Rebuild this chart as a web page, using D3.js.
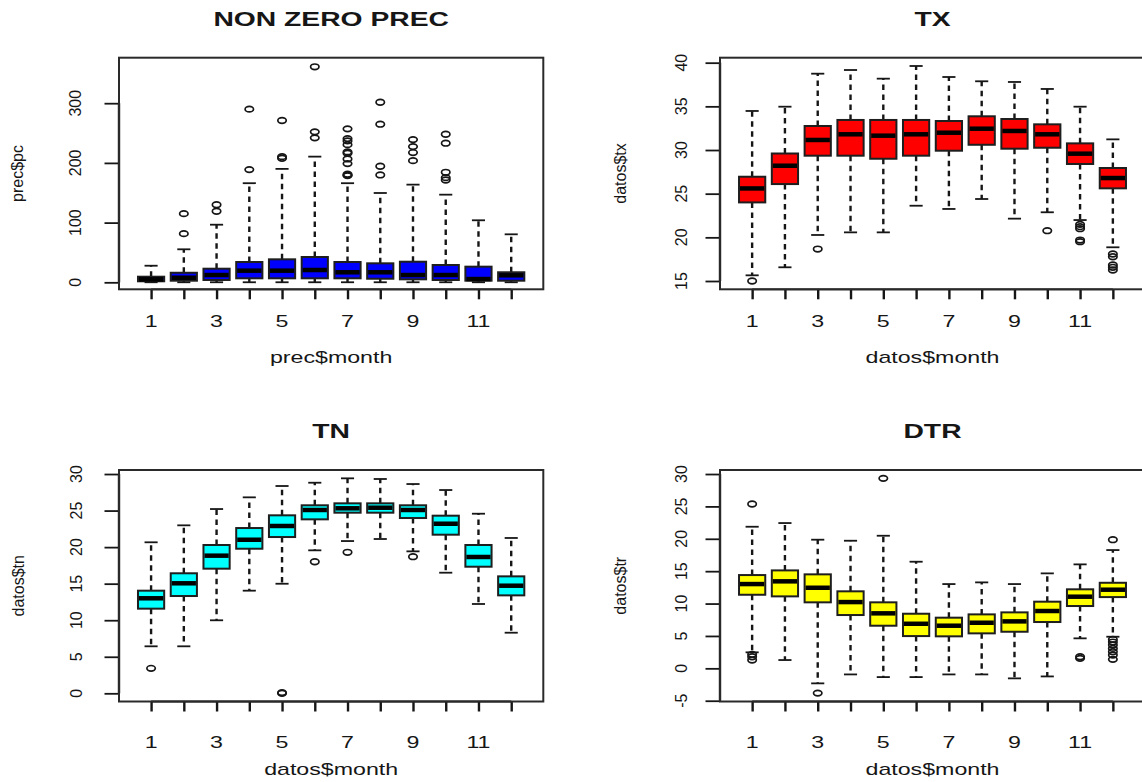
<!DOCTYPE html>
<html>
<head>
<meta charset="utf-8">
<script src="https://cdn.jsdelivr.net/npm/d3@7"></script>
<style>
  html, body { margin: 0; padding: 0; background: #ffffff; }
  svg { display: block; font-family: "Liberation Sans", Arial, sans-serif; }
</style>
</head>
<body>
<svg id="chart" width="1142" height="782"></svg>
<script>
// ---- data: monthly five-number summaries [lower whisker, Q1, median, Q3, upper whisker] ----
const months = [1, 2, 3, 4, 5, 6, 7, 8, 9, 10, 11, 12];
const monthTickLabels = ["1", "3", "5", "7", "9", "11"];
const monthTickValues = [1, 3, 5, 7, 9, 11];

const precStats = [
  [0.1, 1.7, 5.0, 9.4, 27.8],
  [0.1, 2.7, 7.7, 16.0, 55.3],
  [0.1, 3.9, 12.2, 22.8, 96.5],
  [0.1, 6.7, 19.5, 34.0, 166.0],
  [0.1, 6.7, 19.5, 38.5, 190.0],
  [0.1, 6.7, 20.6, 42.4, 210.5],
  [0.1, 6.7, 16.8, 34.0, 166.0],
  [0.1, 6.0, 16.8, 31.8, 149.6],
  [0.1, 5.0, 12.2, 34.5, 163.6],
  [0.1, 3.9, 12.2, 29.0, 146.8],
  [0.1, 2.7, 5.5, 26.2, 103.9],
  [0.1, 2.7, 11.7, 16.8, 80.4]
];
const precOutliers = [
  [],
  [81.5, 115],
  [119, 130],
  [188.8, 290],
  [207.8, 210.5, 271],
  [242, 252, 361],
  [178.7, 179.5, 181, 198.8, 206.6, 216.2, 218.4, 230.6, 236.8, 240.7, 257],
  [179.8, 194.4, 264.8, 301.6],
  [203.8, 217.3, 227.3, 239],
  [171.4, 175.3, 184.3, 233, 248],
  [],
  []
];

const txStats = [
  [15.65, 24.0, 25.6, 26.94, 34.47],
  [16.57, 26.1, 28.2, 29.6, 34.96],
  [20.27, 29.35, 31.15, 32.75, 38.74],
  [20.57, 29.35, 31.8, 33.44, 39.16],
  [20.57, 29.0, 31.64, 33.44, 38.17],
  [23.62, 29.35, 31.8, 33.44, 39.62],
  [23.25, 29.92, 31.98, 33.32, 38.36],
  [24.39, 30.6, 32.44, 33.86, 37.87],
  [22.14, 30.15, 32.18, 33.55, 37.79],
  [22.87, 30.26, 31.8, 32.94, 36.99],
  [21.98, 28.4, 29.58, 30.76, 34.96],
  [18.86, 25.61, 26.79, 27.94, 31.22]
];
const txOutliers = [
  [15.0],
  [],
  [18.66],
  [],
  [],
  [],
  [],
  [],
  [],
  [20.76],
  [21.49, 21.22, 20.99, 19.69, 19.5],
  [18.09, 17.78, 16.83, 16.57, 16.26]
];

const tnStats = [
  [6.43, 11.58, 13.0, 14.04, 20.66],
  [6.43, 13.31, 15.05, 16.42, 22.98],
  [9.99, 17.05, 18.83, 20.29, 25.21],
  [14.04, 19.78, 21.01, 22.61, 26.81],
  [14.99, 21.38, 22.89, 24.35, 28.36],
  [19.56, 23.8, 25.08, 25.72, 28.81],
  [20.83, 24.71, 25.31, 25.99, 29.41],
  [21.11, 24.71, 25.39, 25.99, 29.32],
  [19.42, 23.98, 25.08, 25.72, 28.63],
  [16.5, 21.7, 23.2, 24.3, 27.81],
  [12.22, 17.32, 18.65, 20.29, 24.57],
  [8.29, 13.4, 14.72, 16.0, 21.25]
];
const tnOutliers = [
  [3.42],
  [],
  [],
  [],
  [0.0, 0.1],
  [18.0],
  [19.29],
  [],
  [18.69],
  [],
  [],
  []
];

const dtrStats = [
  [2.47, 11.36, 13.01, 14.4, 21.86],
  [1.28, 11.11, 13.43, 15.12, 22.43],
  [-2.32, 10.19, 12.44, 14.51, 19.86],
  [-0.94, 8.23, 10.23, 11.89, 19.7],
  [-1.35, 6.58, 8.49, 10.19, 20.47],
  [-1.35, 4.98, 6.88, 8.43, 16.46],
  [-0.94, 4.94, 6.58, 7.82, 13.01],
  [-0.94, 5.4, 7.04, 8.33, 13.27],
  [-1.55, 5.65, 7.25, 8.64, 13.01],
  [-1.25, 7.15, 8.85, 10.29, 14.66],
  [4.63, 9.62, 11.06, 12.2, 16.05],
  [4.88, 11.0, 12.14, 13.21, 18.26]
];
const dtrOutliers = [
  [25.37, 2.16, 1.79, 1.28],
  [],
  [-3.82],
  [],
  [29.33],
  [],
  [],
  [],
  [],
  [],
  [1.79, 1.54],
  [19.86, 4.47, 4.06, 3.6, 3.08, 2.56, 2.05, 1.39]
];

// axis limits and tick values per panel
const precYLim = [-11.7, 376.2];
const precYTicks = [0, 100, 200, 300];
const txYLim = [14.05, 40.57];
const txYTicks = [15, 20, 25, 30, 35, 40];
const tnYLim = [-1.12, 30.55];
const tnYTicks = [0, 5, 10, 15, 20, 25, 30];
const dtrYLim = [-5.12, 30.62];
const dtrYTicks = [-5, 0, 5, 10, 15, 20, 25, 30];

// ---- layout & style ----
const SX = 1.45;            // horizontal stretch of the device
const INK = "#161616";
const XDOMAIN = [0.02, 12.98];

const panels = [
  { title: "NON ZERO PREC", xLabel: "prec$month", yLabel: "prec$pc",
    stats: precStats, outliers: precOutliers, fill: "#0000ff",
    yLim: precYLim, yTicks: precYTicks,
    left: 119, right: 543.3, top: 57.7, bottom: 289.3,
    titleY: 26, tickLabelY: 327, xLabelY: 363, yTickX: 81, yLabelX: 17.5 },
  { title: "TX", xLabel: "datos$month", yLabel: "datos$tx",
    stats: txStats, outliers: txOutliers, fill: "#ff0000",
    yLim: txYLim, yTicks: txYTicks,
    left: 720, right: 1145, top: 57.7, bottom: 289.3,
    titleY: 26, tickLabelY: 327, xLabelY: 363, yTickX: 686.5, yLabelX: 620 },
  { title: "TN", xLabel: "datos$month", yLabel: "datos$tn",
    stats: tnStats, outliers: tnOutliers, fill: "#00ffff",
    yLim: tnYLim, yTicks: tnYTicks,
    left: 119, right: 543.3, top: 470, bottom: 701.5,
    titleY: 438, tickLabelY: 748, xLabelY: 775, yTickX: 82, yLabelX: 18 },
  { title: "DTR", xLabel: "datos$month", yLabel: "datos$tr",
    stats: dtrStats, outliers: dtrOutliers, fill: "#ffff00",
    yLim: dtrYLim, yTicks: dtrYTicks,
    left: 720, right: 1145, top: 470, bottom: 701.5,
    titleY: 438, tickLabelY: 748, xLabelY: 775, yTickX: 686.5, yLabelX: 620 }
];

const svg = d3.select("#chart");
svg.append("rect").attr("width", 1142).attr("height", 782).attr("fill", "#ffffff");

function hText(g, x, y, str, size, weight) {
  g.append("text")
    .attr("transform", `translate(${x},${y}) scale(${SX},1)`)
    .attr("text-anchor", "middle")
    .attr("font-size", size)
    .attr("font-weight", weight || "normal")
    .attr("fill", INK)
    .text(str);
}

function vText(g, x, y, str, size, baseline) {
  g.append("text")
    .attr("transform", `translate(${x},${y}) rotate(-90)`)
    .attr("text-anchor", "middle")
    .attr("dominant-baseline", baseline || "alphabetic")
    .attr("font-size", size)
    .attr("fill", INK)
    .text(str);
}

panels.forEach(p => {
  const g = svg.append("g");
  const x = d3.scaleLinear().domain(XDOMAIN).range([p.left, p.right]);
  const y = d3.scaleLinear().domain(p.yLim).range([p.bottom, p.top]);
  const halfBox = x(1.4) - x(1);
  const halfCap = halfBox / 2;

  const rows = months.map((m, i) => ({ m, s: p.stats[i], out: p.outliers[i] }));
  const box = g.selectAll("g.box").data(rows).enter().append("g").attr("class", "box");

  // dashed whiskers
  box.append("line")
    .attr("x1", d => x(d.m)).attr("x2", d => x(d.m))
    .attr("y1", d => y(d.s[3])).attr("y2", d => y(d.s[4]))
    .attr("stroke", INK).attr("stroke-width", 2.4).attr("stroke-dasharray", "5.5,4.5");
  box.append("line")
    .attr("x1", d => x(d.m)).attr("x2", d => x(d.m))
    .attr("y1", d => y(d.s[1])).attr("y2", d => y(d.s[0]))
    .attr("stroke", INK).attr("stroke-width", 2.4).attr("stroke-dasharray", "5.5,4.5");
  // staples
  [0, 4].forEach(k => {
    box.append("line")
      .attr("x1", d => x(d.m) - halfCap).attr("x2", d => x(d.m) + halfCap)
      .attr("y1", d => y(d.s[k])).attr("y2", d => y(d.s[k]))
      .attr("stroke", INK).attr("stroke-width", 1.8);
  });
  // boxes
  box.append("rect")
    .attr("x", d => x(d.m) - halfBox)
    .attr("width", 2 * halfBox)
    .attr("y", d => y(d.s[3]))
    .attr("height", d => y(d.s[1]) - y(d.s[3]))
    .attr("fill", p.fill)
    .attr("stroke", "#1e1e1e").attr("stroke-width", 2);
  // medians
  box.append("line")
    .attr("x1", d => x(d.m) - halfBox + 1).attr("x2", d => x(d.m) + halfBox - 1)
    .attr("y1", d => y(d.s[2])).attr("y2", d => y(d.s[2]))
    .attr("stroke", "#000").attr("stroke-width", 4.5);
  // outliers
  box.selectAll("ellipse").data(d => d.out.map(v => ({ m: d.m, v })))
    .enter().append("ellipse")
    .attr("cx", d => x(d.m)).attr("cy", d => y(d.v))
    .attr("rx", 4.2).attr("ry", 2.8)
    .attr("fill", "none").attr("stroke", INK).attr("stroke-width", 1.7);

  // x axis ticks
  const xAxis = d3.axisBottom(x).tickValues(months).tickSize(10).tickSizeOuter(0).tickFormat("");
  const gx = g.append("g").attr("transform", `translate(0,${p.bottom})`).call(xAxis);
  gx.select(".domain").remove();
  gx.selectAll(".tick line").attr("stroke", INK).attr("stroke-width", 2.4);
  g.append("line")
    .attr("x1", x(months[0])).attr("x2", x(months[months.length - 1]))
    .attr("y1", p.bottom).attr("y2", p.bottom)
    .attr("stroke", INK).attr("stroke-width", 1.8);
  monthTickValues.forEach((v, i) => hText(g, x(v), p.tickLabelY, monthTickLabels[i], 16));

  // y axis ticks
  const yAxis = d3.axisLeft(y).tickValues(p.yTicks).tickSize(14.5).tickSizeOuter(0).tickFormat("");
  const gy = g.append("g").attr("transform", `translate(${p.left},0)`).call(yAxis);
  gy.select(".domain").remove();
  gy.selectAll(".tick line").attr("stroke", INK).attr("stroke-width", 1.8);
  g.append("line")
    .attr("x1", p.left).attr("x2", p.left)
    .attr("y1", y(p.yTicks[0])).attr("y2", y(p.yTicks[p.yTicks.length - 1]))
    .attr("stroke", INK).attr("stroke-width", 2.4);
  p.yTicks.forEach(v => vText(g, p.yTickX, y(v), String(v), 16));

  // plot frame
  g.append("rect")
    .attr("x", p.left).attr("y", p.top)
    .attr("width", p.right - p.left).attr("height", p.bottom - p.top)
    .attr("fill", "none").attr("stroke", "#2a2a2a").attr("stroke-width", 2);

  // titles and axis labels
  hText(g, (p.left + p.right) / 2, p.titleY, p.title, 19.5, "bold");
  hText(g, (p.left + p.right) / 2, p.xLabelY, p.xLabel, 16);
  vText(g, p.yLabelX, (p.top + p.bottom) / 2, p.yLabel, 16, "central");
});
</script>
</body>
</html>
